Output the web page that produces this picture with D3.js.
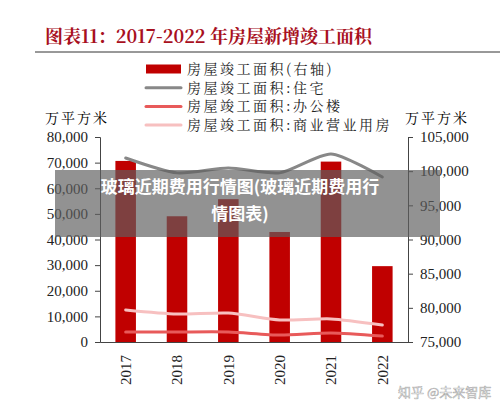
<!DOCTYPE html><html><head><meta charset="utf-8"><script src="https://cdn.jsdelivr.net/npm/d3@7"></script>
<style>body{margin:0;background:#fff}svg{display:block}</style></head><body><svg id="c" width="500" height="408"></svg>
<script>
const years=["2017","2018","2019","2020","2021","2022"];
const total=[101500,93400,95900,91100,101400,86100];
const housing=[71800,66000,67900,66000,73400,64400];
const office=[3900,3900,3900,2700,3500,2300];
const commercial=[12500,10900,11300,8600,9000,6600];
const leftTicks=[0,10000,20000,30000,40000,50000,60000,70000,80000];
const rightTicks=[75000,80000,85000,90000,95000,100000,105000];
const svg=d3.select("#c");
const serif="'Liberation Serif','DejaVu Serif',serif";
const cjk="'Noto Serif CJK SC','Noto Sans CJK SC',serif";
const L=100,R=408,T=137,B=342;
const x=d3.scaleBand().domain(years).range([L,R]).paddingInner(0.6).paddingOuter(0.3);
const yl=d3.scaleLinear().domain([0,80000]).range([B,T]);
const yr=d3.scaleLinear().domain([75000,105000]).range([B,T]);
svg.append("text").attr("x",45).attr("y",43).attr("fill","#a8101e").attr("font-weight","bold").attr("font-size",18).attr("font-family",cjk).text("图表11：2017-2022 年房屋新增竣工面积");
svg.append("line").attr("x1",35).attr("x2",500).attr("y1",52).attr("y2",52).attr("stroke","#333");
const leg=[["房屋竣工面积(右轴)","#c00000",9],["房屋竣工面积:住宅","#888",3],["房屋竣工面积:办公楼","#e85a5a",3],["房屋竣工面积:商业营业用房","#f7c0c0",3]];
leg.forEach((d,i)=>{const yy=69+i*18.7;
svg.append("line").attr("x1",146).attr("x2",181).attr("y1",yy).attr("y2",yy).attr("stroke",d[1]).attr("stroke-width",d[2]).attr("stroke-linecap",i?"round":"butt");
svg.append("text").attr("x",187).attr("y",yy+5).attr("font-size",14).attr("letter-spacing",2.5).attr("font-family",cjk).attr("fill","#222").text(d[0]);});
svg.append("text").attr("x",45).attr("y",123).attr("font-size",14).attr("letter-spacing",2).attr("font-family",cjk).text("万平方米");
svg.append("text").attr("x",405).attr("y",123).attr("font-size",14).attr("letter-spacing",2).attr("font-family",cjk).text("万平方米");
svg.selectAll("rect.bar").data(years).join("rect").attr("fill","#c00000").attr("x",d=>x(d)).attr("width",x.bandwidth()).attr("y",(d,i)=>yr(total[i])).attr("height",(d,i)=>B-yr(total[i]));
const xc=d=>x(d)+x.bandwidth()/2;
function ln(arr,c){svg.append("path").datum(arr).attr("fill","none").attr("stroke",c).attr("stroke-width",3).attr("stroke-linecap","round").attr("d",d3.line().x((d,i)=>xc(years[i])).y(d=>yl(d)).curve(d3.curveCardinal.tension(0.3)));}
ln(commercial,"#f7c0c0");ln(office,"#e85a5a");ln(housing,"#888");
const ga=svg.append("g").attr("transform",`translate(${L},0)`).call(d3.axisLeft(yl).tickValues(leftTicks).tickFormat(d3.format(",")).tickSize(5));
const gr=svg.append("g").attr("transform",`translate(${R},0)`).call(d3.axisRight(yr).tickValues(rightTicks).tickFormat(d3.format(",")).tickSize(5));
const gb=svg.append("g").attr("transform",`translate(0,${B})`).call(d3.axisBottom(x).tickSize(0));
[ga,gr,gb].forEach(g=>{g.selectAll("text").attr("font-family",serif).attr("font-size",15).attr("fill","#222");g.selectAll("path,line").attr("stroke","#444");});
ga.selectAll("text").attr("x",-12);gr.selectAll("text").attr("x",12);
gb.selectAll("text").attr("transform","rotate(-90)").attr("text-anchor","middle").attr("x",-28).attr("y",0).attr("dy","0.35em");
svg.append("rect").attr("x",55).attr("y",170).attr("width",385).attr("height",67).attr("fill","rgba(95,95,95,0.68)");
svg.append("text").attr("x",240).attr("y",193).attr("text-anchor","middle").attr("fill","#fff").attr("font-weight","bold").attr("font-size",17).attr("font-family","'Noto Sans CJK SC'").text("玻璃近期费用行情图(玻璃近期费用行");
svg.append("text").attr("x",240).attr("y",220).attr("text-anchor","middle").attr("fill","#fff").attr("font-weight","bold").attr("font-size",17).attr("font-family","'Noto Sans CJK SC'").text("情图表)");
svg.append("text").attr("x",398).attr("y",397).attr("fill","rgba(255,255,255,0.85)").attr("stroke","rgba(0,0,0,0.35)").attr("stroke-width",0.6).attr("font-size",13).attr("font-family","'Noto Sans CJK SC'").text("知乎 @未来智库");
</script></body></html>
